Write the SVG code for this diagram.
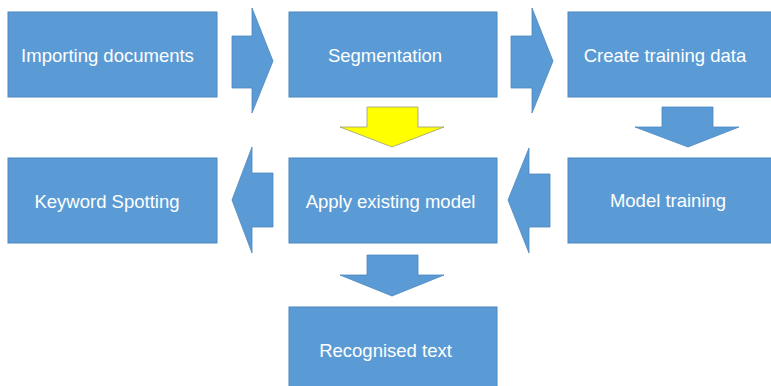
<svg xmlns="http://www.w3.org/2000/svg" width="771" height="386" viewBox="0 0 771 386">
<style>
.box{fill:#5b9bd5;stroke:#4d86bd;stroke-width:1}
.lbl{fill:#ffffff;font-family:"Liberation Sans",Arial,sans-serif;font-size:18.5px;text-anchor:middle}
.arr{fill:#5b9bd5;stroke:#4d86bd;stroke-width:0.8}
.hl{fill:#ffff00;stroke:#9a9a7a;stroke-width:0.8}
</style>
<rect width="771" height="386" fill="#ffffff"/>
<g id="connectors">
<polygon class="arr" points="232,36 252,36 252,8 273,61 252,113 252,88 232,88"/>
<polygon class="arr" points="511,36 532,36 532,8 553,61 532,113 532,88 511,88"/>
<polygon class="arr" points="662,107 713,107 713,127 739,127 688,147 635,127 662,127"/>
<polygon class="hl" points="367,107 418,107 418,127 444,127 392,147 340,127 367,127"/>
<polygon class="arr" points="550,174 550,227 529,227 529,253 508,200 529,148 529,174"/>
<polygon class="arr" points="273,173 273,227 252,227 252,253 232,200 252,147 252,173"/>
<polygon class="arr" points="367,255 418,255 418,275 444,275 392,296 340,275 367,275"/>
</g>
<g id="importing">
<rect class="box" x="8" y="12" width="209" height="85"/>
<text class="lbl" x="107.5" y="62">Importing documents</text>
</g>
<g id="segmentation">
<rect class="box" x="289" y="12" width="208" height="85"/>
<text class="lbl" x="385" y="62">Segmentation</text>
</g>
<g id="create">
<rect class="box" x="568" y="12" width="210" height="85"/>
<text class="lbl" x="665" y="62">Create training data</text>
</g>
<g id="keyword">
<rect class="box" x="8" y="158" width="209" height="85"/>
<text class="lbl" x="107" y="208">Keyword Spotting</text>
</g>
<g id="apply">
<rect class="box" x="289" y="158" width="208" height="85"/>
<text class="lbl" x="390.5" y="208">Apply existing model</text>
</g>
<g id="model">
<rect class="box" x="568" y="158" width="210" height="85"/>
<text class="lbl" x="668" y="207">Model training</text>
</g>
<g id="recognised">
<rect class="box" x="289" y="307" width="208" height="90"/>
<text class="lbl" x="385.5" y="357">Recognised text</text>
</g>
</svg>
